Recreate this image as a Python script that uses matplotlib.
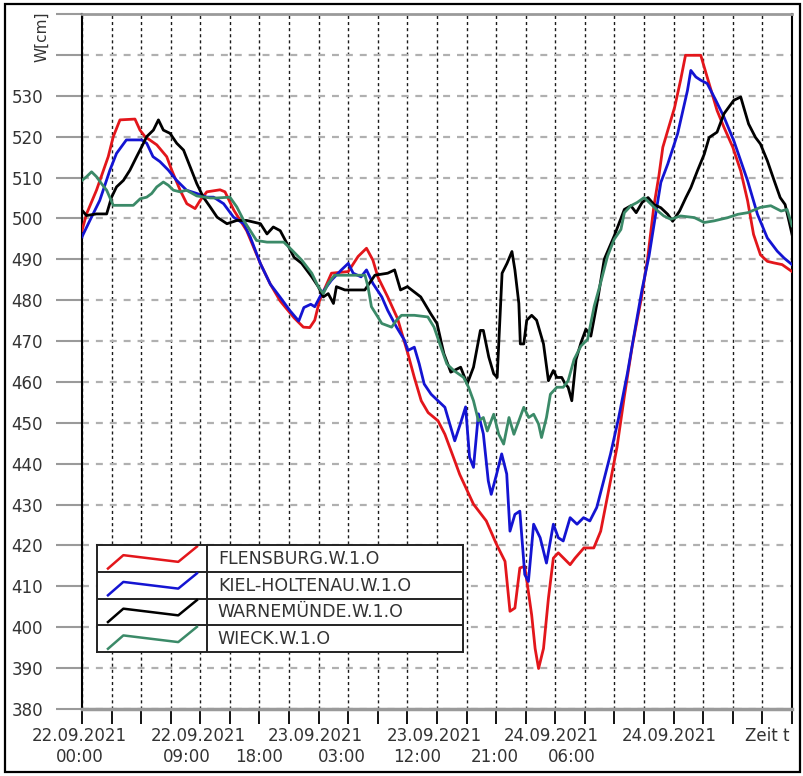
#!/usr/bin/env python3
import numpy as np
import matplotlib as mpl
mpl.use('Agg')
from matplotlib import pyplot as plt
from matplotlib.patches import Rectangle

mpl.rcParams['lines.scale_dashes'] = False
mpl.rcParams['font.family'] = ['DejaVu Sans']

# -- data: hours since 22.09.2021 00:00, water level W [cm] -- #
flens_h = [0, 0.46, 1.47, 2.66, 3.17, 3.85, 5.37, 5.88, 6.39, 7.58, 8.59, 9.1, 9.95, 10.63, 11.47, 11.98,
           12.66, 14.0, 14.5, 15.4, 16.7, 18.1, 19.1, 20.1, 21.5, 22.45, 23.1, 23.6, 24.1, 25.3, 27.0, 28.0,
           28.85, 29.5, 30.0, 31.0, 32.0, 33.05, 33.7, 34.4, 35.1, 36.1, 36.8, 37.8, 38.3, 39.7, 41.0, 42.05,
           42.9, 43.4, 43.9, 44.4, 44.9, 45.6, 45.95, 46.3, 46.8, 47.3, 47.8, 48.3, 49.5, 50.0, 50.9, 51.9,
           52.6, 53.4, 54.25, 55.0, 55.8, 56.7, 57.35, 58.0, 58.5, 58.9, 59.4, 60.1, 60.7, 61.2, 62.75, 63.1,
           63.8, 64.4, 65.1, 66.0, 66.8, 67.5, 68.1, 68.8, 69.5, 70.2, 71.0, 72]
flens_w = [497, 501.1, 506.9, 515.1, 520, 524.1, 524.3, 521.6, 520, 518, 515.1, 511.8, 506.9, 503.6, 502.4, 504.4,
           506.5, 507, 506.5, 502, 497, 488.9, 483.9, 479.8, 475.7, 473.4, 473.3, 475.1, 480, 486.6, 487, 490.7,
           492.7, 489.8, 485.7, 480.8, 475.5, 466.9, 461.1, 455.4, 452.5, 450.5, 447.2, 440.7, 437.4, 430.1, 426, 420.2,
           416.1, 403.9, 404.7, 414.5, 414.9, 403, 394.8, 389.9, 394.8, 407.1, 416.9, 418.2, 415.3, 416.9, 419.4, 419.4,
           423.5, 433.4, 444, 456.5, 468.8, 480.2, 490, 503.1, 510.4, 517.4, 521.5, 527.2, 533.8, 539.9, 539.9, 537,
           531.3, 526.4, 522.3, 517.4, 511.6, 504.3, 496.1, 491.1, 489.5, 489.1, 488.7, 487]

kiel_h = [0, 0.8, 1.8, 2.83, 3.5, 4.5, 6.05, 6.56, 7.2, 7.9, 8.76, 9.6, 10.6, 11.64, 12.66, 13.34, 14.36, 15.37,
          16.4, 17.07, 18.1, 19.1, 20.1, 21.1, 21.98, 22.5, 23.2, 23.6, 24.3, 25.3, 26.3, 27.0, 27.5, 28.3, 28.85,
          29.5, 30.4, 31.0, 31.9, 32.7, 33.05, 33.7, 34.2, 34.7, 35.4, 36.1, 36.8, 37.1, 37.8, 38.4, 38.9, 39.3,
          39.7, 40.2, 40.7, 41.2, 41.5, 42.05, 42.56, 43.07, 43.4, 43.9, 44.4, 44.9, 45.27, 45.8, 46.46, 47.1, 47.8,
          48.3, 48.8, 49.5, 50.2, 50.86, 51.5, 52.2, 52.9, 53.6, 54.4, 55.3, 56.2, 56.8, 57.5, 58.2, 58.7, 59.4,
          60.4, 61.4, 61.74, 62.25, 62.75, 63.4, 64.27, 65.1, 66.1, 66.8, 67.5, 68.5, 69.5, 70.5, 71.2, 72]
kiel_w = [495.5, 499.5, 504.4, 511.8, 515.9, 519.2, 519.2, 518.4, 515.1, 513.9, 511.8, 509.3, 506.9, 506.1, 505.2, 505.2,
          503.6, 500.3, 498.7, 495.4, 488.9, 483.9, 480.7, 477.4, 474.9, 478.2, 479, 478.4, 481.6, 484.9, 487.4, 489,
          486.6, 485.7, 487.4, 484.1, 480.8, 477.5, 473.4, 470.2, 467.7, 468.5, 464.4, 459.5, 457, 455.4, 453.8, 451.3,
          445.6, 450, 453.9, 441.6, 439.1, 452.2, 447.3, 435.8, 432.5, 437.5, 442.4, 437.5, 423.5, 427.6, 428.4, 412.9,
          411.2, 425.2, 421.9, 415.7, 425.2, 421.9, 421.1, 426.8, 425.2, 426.8, 426, 429.3, 435.8, 442.4, 451, 462,
          474.5, 482.7, 490.8, 501.4, 508.8, 513.3, 520.7, 531.3, 536.2, 534.6, 533.8, 533, 528.9, 524.8, 519, 514.1,
          509.2, 501, 495.2, 492, 490.3, 488.7]

warn_h = [0, 0.46, 1.47, 2.5, 3.0, 3.5, 4.2, 4.86, 5.54, 6.05, 6.56, 7.24, 7.75, 8.25, 8.93, 9.6, 10.3, 10.97,
          11.64, 12.3, 13.0, 13.7, 14.7, 15.7, 16.7, 18.1, 18.76, 19.4, 20.1, 20.8, 21.5, 22.28, 23.3, 23.96, 24.47,
          24.97, 25.5, 25.8, 26.66, 27.67, 28.68, 29.7, 31.0, 31.7, 32.3, 33.0, 34.35, 35.36, 36.0, 36.7, 37.4,
          38.4, 39.06, 39.7, 40.4, 40.7, 41.25, 41.75, 42.1, 42.6, 43.1, 43.6, 43.9, 44.3, 44.45, 44.8, 45.1, 45.6,
          46.1, 46.8, 47.3, 47.8, 48.15, 48.65, 49.0, 49.3, 49.67, 50.1, 50.6, 51.1, 51.6, 52.3, 52.96, 53.97, 55.0,
          55.66, 56.2, 56.8, 57.4, 58.0, 58.7, 59.4, 59.9, 60.6, 61.24, 61.74, 62.4, 63.1, 63.6, 64.4, 65.1, 66.1,
          66.8, 67.1, 67.6, 68.3, 68.8, 69.5, 70.2, 70.8, 71.3, 71.7, 72]
warn_w = [502, 500.7, 501.1, 501.1, 505.2, 507.7, 509.3, 511.8, 515.1, 517.5, 520, 521.6, 524.1, 521.6, 520.8, 518.4,
          516.7, 512.6, 508.5, 505.2, 502.8, 500.3, 498.7, 499.5, 499.5, 498.7, 496.2, 497.9, 497, 493.8, 490.5, 489,
          485.7, 483.3, 480.8, 481.6, 479.2, 483.3, 482.5, 482.5, 482.5, 486.1, 486.6, 487.4, 482.5, 483.3, 480.8,
          476.7, 474.3, 466.9, 462.4, 463.6, 459.5, 463.6, 472.6, 472.6, 466.1, 462, 461.1, 486.6, 489, 491.9, 487.4,
          479.2, 469.3, 469.3, 475.1, 476.3, 475.1, 469.3, 460.3, 462.8, 461.1, 461.1, 459.5, 458.7, 455.4, 465.5,
          469.6, 472.9, 471.2, 480.2, 490, 495.7, 502.2, 503.1, 501.4, 503.9, 505.1, 503.4, 502.6, 501, 499.3, 501.8,
          505.1, 507.5, 511.6, 515.7, 519.8, 521.1, 525.6, 528.9, 529.7, 527.2, 523.1, 519.8, 518.2, 514.1, 509.2,
          505.1, 503.4, 499.3, 496.1]

wieck_h = [0, 0.46, 0.97, 1.47, 1.98, 2.5, 3.17, 4.2, 5.2, 5.9, 6.56, 7.07, 7.58, 8.25, 8.76, 9.27, 9.95, 10.6,
           11.64, 13.0, 13.7, 15.0, 15.7, 16.4, 17.07, 17.7, 18.76, 19.8, 20.46, 21.27, 22.28, 23.3, 23.96, 24.47,
           24.97, 25.6, 27.0, 28.7, 29.0, 29.35, 30.0, 30.4, 31.4, 31.9, 32.4, 33.7, 35.07, 35.7, 36.4, 37.0, 37.7,
           38.7, 39.2, 39.7, 40.2, 40.7, 41.1, 41.75, 42.26, 42.76, 43.3, 43.8, 44.3, 44.8, 45.3, 45.8, 46.3, 46.6,
           47.1, 47.5, 48.15, 48.8, 49.3, 49.9, 50.6, 51.27, 51.95, 52.6, 53.3, 53.97, 54.65, 55.0, 55.66, 56.3,
           57.0, 57.7, 58.4, 59.0, 59.7, 60.7, 62.1, 63.1, 64.1, 65.5, 66.5, 67.5, 68.8, 69.85, 70.9, 71.5, 72]
wieck_w = [509.3, 510.2, 511.4, 510.2, 508.5, 506.9, 503.2, 503.2, 503.2, 504.8, 505.2, 506.1, 507.7, 508.9, 508.1,
           506.9, 506.5, 506.9, 505.5, 505, 505, 505.2, 502.8, 499.5, 497, 494.6, 494.2, 494.2, 494.2, 492.3, 489.8,
           486.6, 483.3, 481.6, 484.1, 486.1, 486.1, 486.1, 483.3, 478.4, 475.9, 474.3, 473.4, 475.1, 476.3, 476.3,
           475.9, 473.4, 468.5, 464.4, 462.8, 461.1, 458.7, 455.4, 450.5, 451.3, 448, 452.1, 447.2, 444.8, 451.3,
           447.2, 450.5, 453.8, 451.3, 452.1, 449.7, 446.4, 451.3, 457, 458.7, 458.7, 460.3, 465.5, 468.8, 470.4,
           478.6, 484.3, 490.8, 494.9, 497.3, 501.4, 503.1, 503.9, 505.1, 503.5, 501.8, 500.6, 499.8, 500.6, 500.2,
           499, 499.4, 500.2, 501, 501.4, 502.7, 503.1, 501.8, 502.2, 498.2]

series_names = ['FLENSBURG.W.1.O', 'KIEL-HOLTENAU.W.1.O', 'WARNEMÜNDE.W.1.O', 'WIECK.W.1.O']
series_colors = ['#e3161b', '#1414d2', '#000000', '#3b8a68']

date_labels = ['22.09.2021', '22.09.2021', '23.09.2021', '23.09.2021', '24.09.2021', '24.09.2021']
time_labels = ['00:00', '09:00', '18:00', '03:00', '12:00', '21:00', '06:00']
date_pos = [-0.3, 11.8, 23.7, 35.7, 47.6, 59.6]
time_pos = [-0.2, 10.6, 18.0, 26.3, 34.0, 41.9, 49.7]

W, H = 804, 776
txt_col = '#333333'

fig = plt.figure(figsize=(W / 100, H / 100), dpi=100)
ax = fig.add_axes([82 / W, 1 - 709 / H, 710 / W, 695 / H])

series = [(flens_h, flens_w), (kiel_h, kiel_w), (warn_h, warn_w), (wieck_h, wieck_w)]
for (h, w), c in zip(series, series_colors):
    ax.plot(h, w, color=c, lw=2.0, zorder=3)

ax.set_xlim(0, 72)
ax.set_ylim(380, 550)

## -- grid and ticks -- ##
yt = np.arange(380, 551, 10)
ax.set_yticks(yt)
ax.set_yticklabels([str(v) if v <= 530 else '' for v in yt])
ax.set_xticks(np.arange(0, 73, 3))
ax.tick_params(axis='y', length=19, width=1.5, color='#9a9a9a', pad=9,
               labelsize=12, labelcolor=txt_col)
ax.tick_params(axis='x', length=11, width=1.3, color='black', labelbottom=False)
ax.yaxis.grid(True, color='#b0b0b0', lw=1.6, ls=(0, (5, 5)))
ax.xaxis.grid(True, color='#1a1a1a', lw=1.0, ls=(0, (2.2, 2.2)))
ax.set_axisbelow(True)

for s in ('left', 'right'):
    ax.spines[s].set_color('black')
    ax.spines[s].set_linewidth(1.5)
ax.spines['top'].set_color('#9a9a9a')
ax.spines['top'].set_linewidth(2)
ax.spines['bottom'].set_color('#9a9a9a')
ax.spines['bottom'].set_linewidth(2.5)

ax.text(-0.056, 0.967, 'W[cm]', transform=ax.transAxes, rotation=90,
        ha='center', va='center', fontsize=11, color=txt_col)

tr = ax.get_xaxis_transform()
for x, s in zip(date_pos, date_labels):
    ax.text(x, -0.039, s, transform=tr, ha='center', va='center', fontsize=12, color=txt_col)
for x, s in zip(time_pos, time_labels):
    ax.text(x, -0.069, s, transform=tr, ha='center', va='center', fontsize=12, color=txt_col)
ax.text(69.5, -0.039, 'Zeit t', transform=tr, ha='center', va='center', fontsize=12, color=txt_col)

## -- legend table -- ##
lg = fig.add_axes([97 / W, 1 - 652 / H, 366 / W, 107 / H])
lg.set_xlim(0, 1)
lg.set_ylim(4, 0)
lg.set_xticks([])
lg.set_yticks([])
for s in lg.spines.values():
    s.set_color('#222222')
    s.set_linewidth(1.4)
lg.axvline(0.30, color='#222222', lw=1.4)
for i in range(1, 4):
    lg.axhline(i, color='#222222', lw=1.4)
sample_x = [0.03, 0.072, 0.222, 0.273]
sample_y = [0.88, 0.38, 0.63, 0.06]
for i, (name, c) in enumerate(zip(series_names, series_colors)):
    lg.plot(sample_x, [i + y for y in sample_y], color=c, lw=1.8)
    lg.text(0.33, i + 0.52, name, ha='left', va='center', fontsize=12.5, color=txt_col)

## -- outer frame -- ##
fig.patches.append(Rectangle((5 / W, 4 / H), 795 / W, 768 / H, transform=fig.transFigure,
                             fill=False, edgecolor='black', lw=1.6))

fig.savefig('out.png', dpi=100)
